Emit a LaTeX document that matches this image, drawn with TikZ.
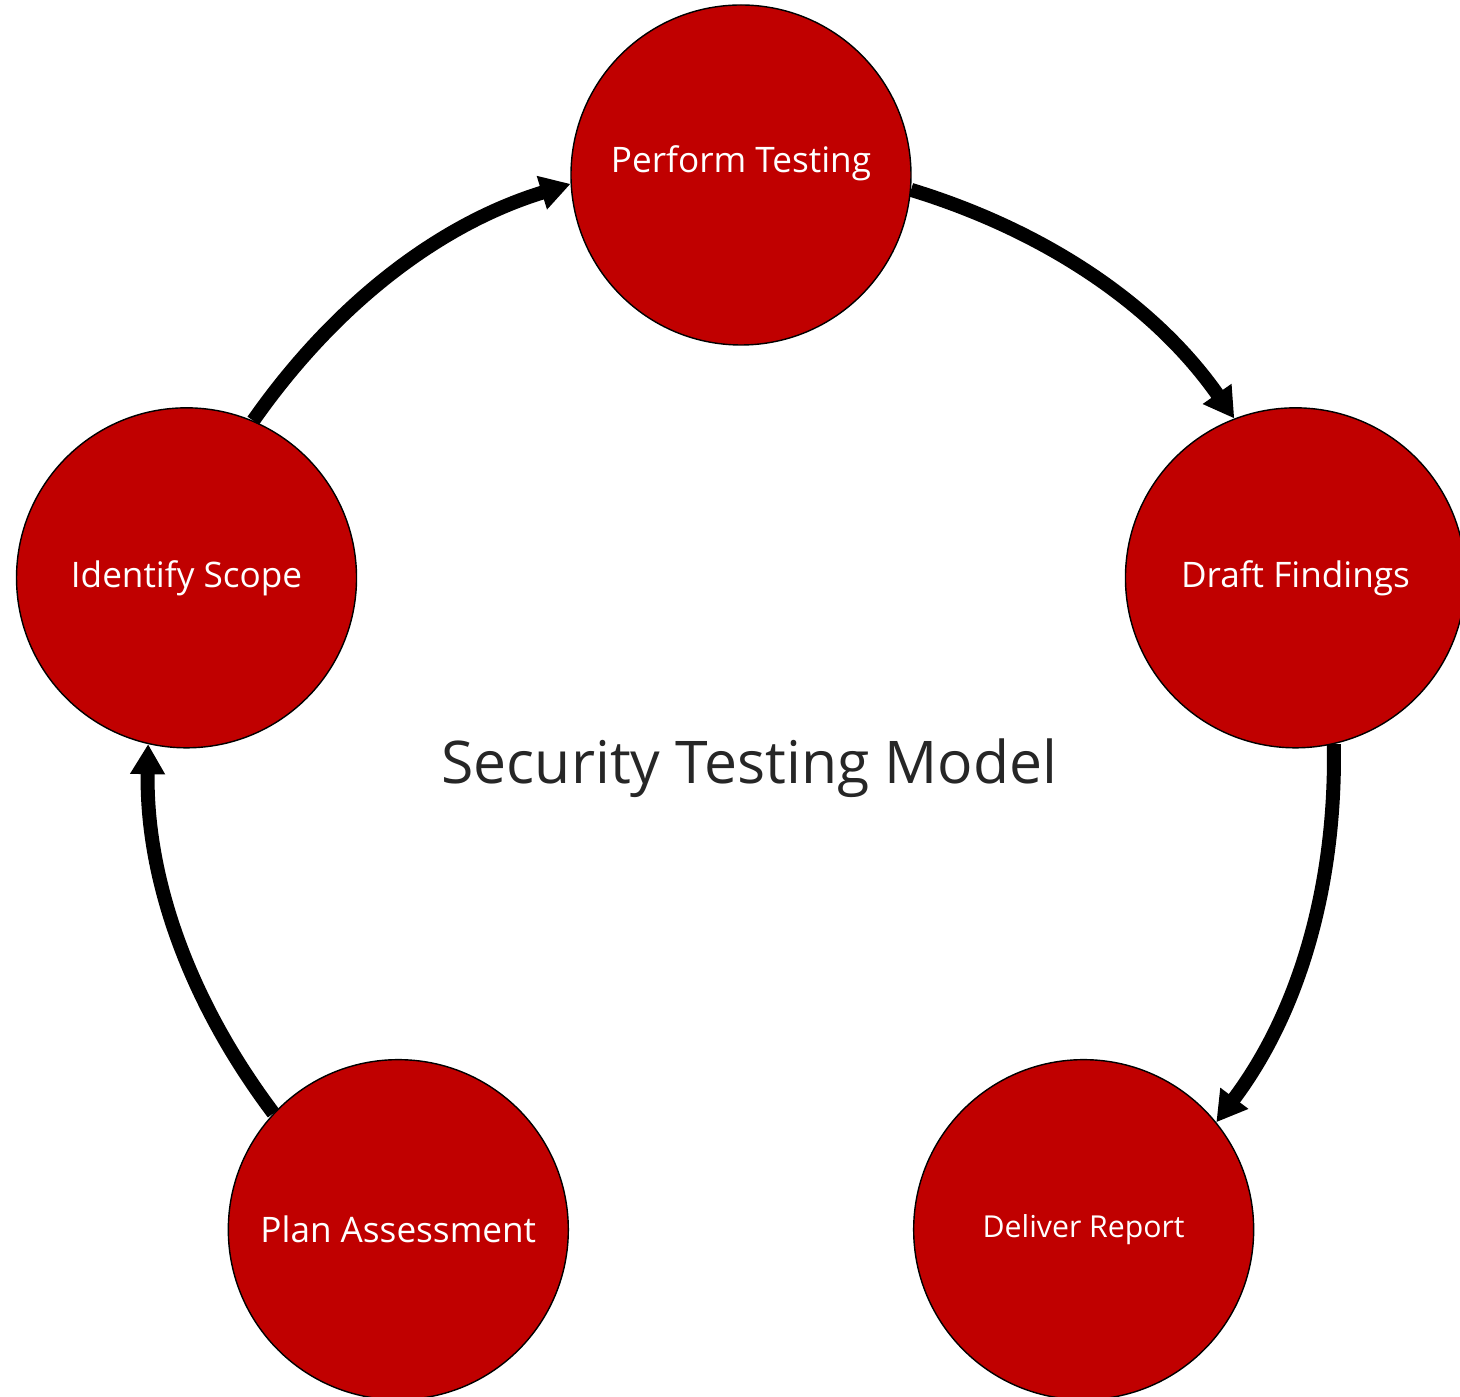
\documentclass[tikz,border=0pt]{standalone}
\usepackage{fontspec}
\setmainfont{Open Sans}
\usetikzlibrary{arrows.meta}
\definecolor{rouge}{HTML}{C00000}
\definecolor{gristexte}{HTML}{262626}

\begin{document}
\begin{tikzpicture}
\tikzset{phase/.style={draw=black, line width=0.8pt, fill=rouge, circle, minimum size=6.8cm, inner sep=0pt, text=white, font=\fontsize{20}{24}\selectfont}}
\tikzset{flow/.style={line width=0.28cm, -{Triangle[length=0.6cm, width=0.66cm]}, looseness=0.9}}
\useasboundingbox (-14.82, -12.78) rectangle (14.38, 15.16);
\clip (-14.82, -12.78) rectangle (14.38, 15.16);
\node[phase, text depth=0.65cm] (Test) at (90:11.66cm) {Perform Testing};
\node[phase] (Draft) at (18:11.66cm) {Draft Findings};
\node[phase, font=\fontsize{17.2}{21}\selectfont] (Report) at (-54:11.66cm) {Deliver Report};
\node[phase] (Plan) at (-126:11.66cm) {Plan Assessment};
\node[phase] (Scope) at (162:11.66cm) {Identify Scope};
\node[text=gristexte, font=\fontsize{33.5}{40}\selectfont] (Titre) at (0.17, -0.2) {Security Testing Model};
\draw[flow] (Scope.67) to[out=55, in=197] (Test.183);
\draw[flow] (Test.-5) to[out=-17, in=125] (Draft.111);
\draw[flow] (Draft.-77) to[out=-89, in=53] (Report.39);
\draw[flow] (Plan.137) to[out=127, in=269] (Scope.257);
\end{tikzpicture}
\end{document}
